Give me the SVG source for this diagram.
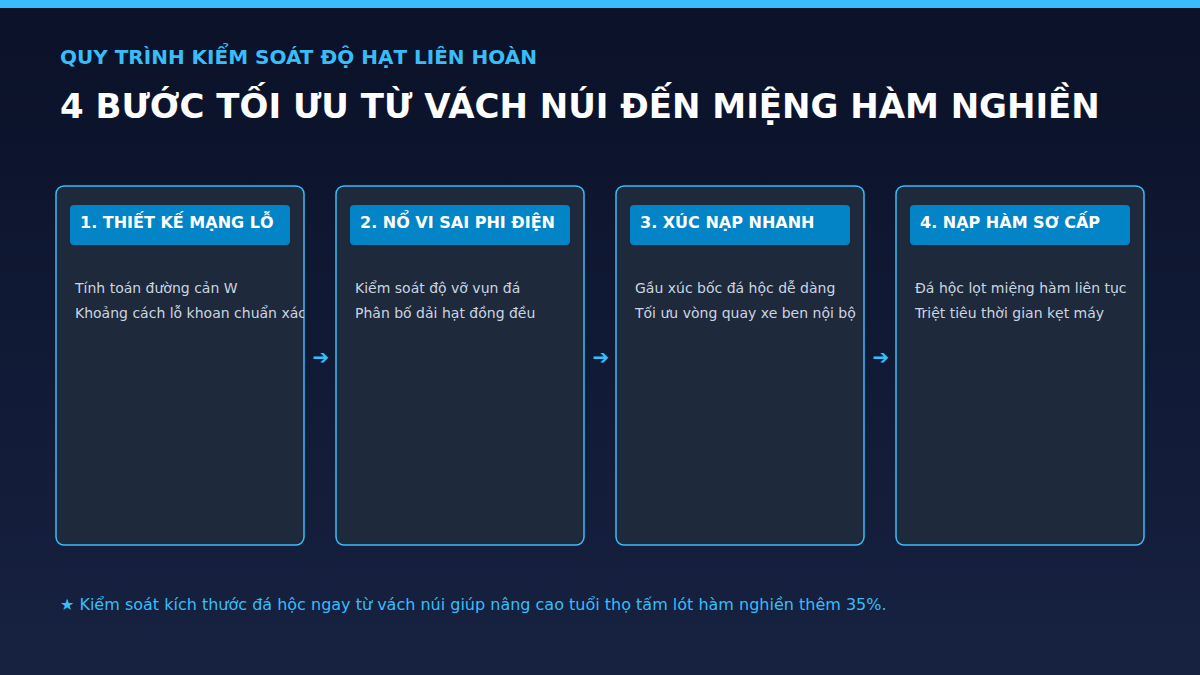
<svg xmlns="http://www.w3.org/2000/svg" width="1200" height="675" viewBox="0 0 1200 675">
<defs>
<linearGradient id="bg" x1="0" y1="0" x2="0" y2="1">
<stop offset="0" stop-color="#0a1128"/>
<stop offset="1" stop-color="#172241"/>
</linearGradient>
<clipPath id="c1"><rect x="56" y="186" width="248" height="359" rx="8"/></clipPath>
<clipPath id="c2"><rect x="336" y="186" width="248" height="359" rx="8"/></clipPath>
<clipPath id="c3"><rect x="616" y="186" width="248" height="359" rx="8"/></clipPath>
<clipPath id="c4"><rect x="896" y="186" width="248" height="359" rx="8"/></clipPath>
</defs>
<style>
.card{fill:#1e293b;stroke:#38bdf8;stroke-width:1.5}
.hdr{fill:#0284c7}
.ht{font-family:"DejaVu Sans",sans-serif;font-weight:bold;font-size:16px;fill:#ffffff}
.bt{font-family:"DejaVu Sans",sans-serif;font-size:14px;fill:#cbd5e1}
.arr{font-family:"DejaVu Sans",sans-serif;font-size:20px;fill:#38bdf8}
</style>
<rect width="1200" height="675" fill="url(#bg)"/>
<rect width="1200" height="8" fill="#38bdf8"/>
<text x="60" y="64" font-family="DejaVu Sans, sans-serif" font-weight="bold" font-size="20" fill="#38bdf8">QUY TRÌNH KIỂM SOÁT ĐỘ HẠT LIÊN HOÀN</text>
<text x="60" y="118" font-family="DejaVu Sans, sans-serif" font-weight="bold" font-size="34" fill="#ffffff">4 BƯỚC TỐI ƯU TỪ VÁCH NÚI ĐẾN MIỆNG HÀM NGHIỀN</text>
<g id="step1">
<rect class="card" x="56" y="186" width="248" height="359" rx="8"/>
<g clip-path="url(#c1)">
<rect class="hdr" x="70" y="205" width="220" height="40" rx="4"/>
<text class="ht" x="80" y="228">1. THIẾT KẾ MẠNG LỖ</text>
<text class="bt" x="75" y="293">Tính toán đường cản W</text>
<text class="bt" x="75" y="318">Khoảng cách lỗ khoan chuẩn xác</text>
</g>
</g>
<g id="step2">
<rect class="card" x="336" y="186" width="248" height="359" rx="8"/>
<g clip-path="url(#c2)">
<rect class="hdr" x="350" y="205" width="220" height="40" rx="4"/>
<text class="ht" x="360" y="228">2. NỔ VI SAI PHI ĐIỆN</text>
<text class="bt" x="355" y="293">Kiểm soát độ vỡ vụn đá</text>
<text class="bt" x="355" y="318">Phân bố dải hạt đồng đều</text>
</g>
</g>
<g id="step3">
<rect class="card" x="616" y="186" width="248" height="359" rx="8"/>
<g clip-path="url(#c3)">
<rect class="hdr" x="630" y="205" width="220" height="40" rx="4"/>
<text class="ht" x="640" y="228">3. XÚC NẠP NHANH</text>
<text class="bt" x="635" y="293">Gầu xúc bốc đá hộc dễ dàng</text>
<text class="bt" x="635" y="318">Tối ưu vòng quay xe ben nội bộ</text>
</g>
</g>
<g id="step4">
<rect class="card" x="896" y="186" width="248" height="359" rx="8"/>
<g clip-path="url(#c4)">
<rect class="hdr" x="910" y="205" width="220" height="40" rx="4"/>
<text class="ht" x="920" y="228">4. NẠP HÀM SƠ CẤP</text>
<text class="bt" x="915" y="293">Đá hộc lọt miệng hàm liên tục</text>
<text class="bt" x="915" y="318">Triệt tiêu thời gian kẹt máy</text>
</g>
</g>
<g id="connectors">
<text class="arr" x="321" y="364" text-anchor="middle">➔</text>
<text class="arr" x="601" y="364" text-anchor="middle">➔</text>
<text class="arr" x="881" y="364" text-anchor="middle">➔</text>
</g>
<text x="60" y="610" font-family="DejaVu Sans, sans-serif" font-size="16" fill="#38bdf8">★ Kiểm soát kích thước đá hộc ngay từ vách núi giúp nâng cao tuổi thọ tấm lót hàm nghiền thêm 35%.</text>
</svg>
